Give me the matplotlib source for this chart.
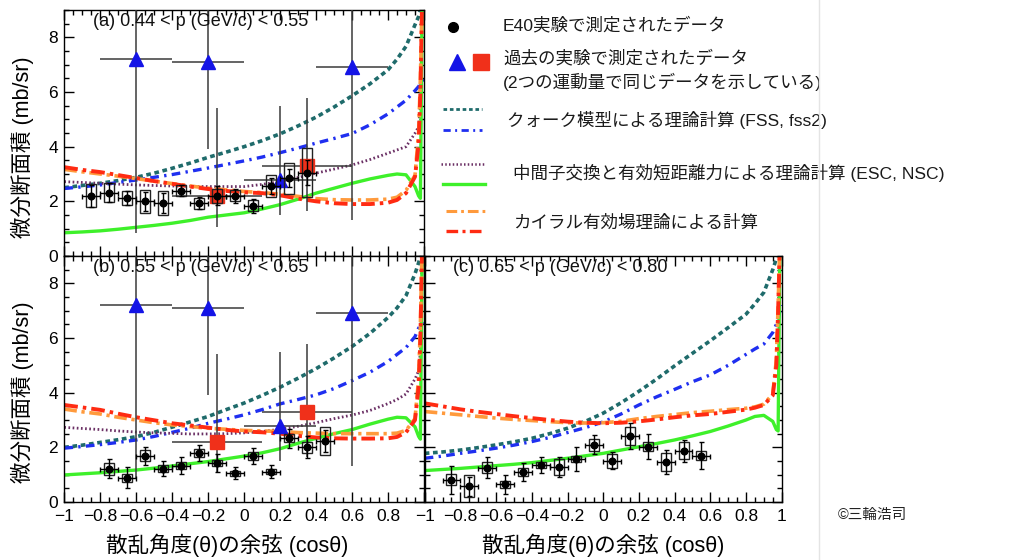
import numpy as np
import matplotlib.pyplot as plt
from matplotlib.patches import Rectangle
from matplotlib.lines import Line2D
from matplotlib.ticker import MultipleLocator, FuncFormatter

plt.rcParams['font.family'] = ['Liberation Sans', 'Noto Sans CJK JP']

# ---- theory curves: common cos(theta) grid ----
cos_grid = [-1.0, -0.9, -0.8, -0.7, -0.6, -0.5, -0.4, -0.3, -0.2, -0.1, 0.0,
            0.1, 0.2, 0.3, 0.4, 0.5, 0.6, 0.7, 0.8, 0.85, 0.9, 0.95, 0.97,
            0.98, 0.99, 1.0]

# (a) 0.44 < p < 0.55
fss_a = [2.50, 2.58, 2.66, 2.76, 2.88, 3.03, 3.21, 3.40, 3.61, 3.80, 4.00, 4.22, 4.47,
         4.76, 5.08, 5.45, 5.86, 6.30, 6.81, 7.20, 7.67, 8.46, 8.76, 9.0, 9.6, 10.5]
fss2_a = [2.47, 2.53, 2.60, 2.69, 2.78, 2.88, 2.98, 3.10, 3.22, 3.35, 3.48, 3.62, 3.78,
          3.95, 4.13, 4.30, 4.48, 4.80, 5.20, 5.45, 5.70, 6.05, 6.20, 6.30, 6.40, 6.50]
esc_a = [2.72, 2.69, 2.66, 2.63, 2.60, 2.58, 2.56, 2.55, 2.54, 2.54, 2.54, 2.62, 2.72,
         2.87, 3.03, 3.18, 3.33, 3.53, 3.76, 3.88, 4.00, 4.49, 4.73, 5.5, 9.5, 12]
nsc_a = [0.85, 0.88, 0.92, 0.98, 1.05, 1.12, 1.20, 1.30, 1.42, 1.50, 1.58, 1.72, 1.88,
         2.08, 2.30, 2.48, 2.66, 2.82, 2.95, 3.00, 2.97, 2.54, 2.20, 2.11, 9.5, 12]
chi1_a = [3.17, 3.08, 3.00, 2.92, 2.83, 2.74, 2.65, 2.56, 2.48, 2.42, 2.36, 2.32, 2.26,
          2.18, 2.10, 2.06, 2.05, 2.05, 2.08, 2.15, 2.40, 2.95, 4.50, 6.50, 9.5, 12]
chi2_a = [3.25, 3.15, 3.07, 2.96, 2.85, 2.74, 2.64, 2.54, 2.45, 2.38, 2.33, 2.30, 2.22,
          2.10, 2.00, 1.93, 1.90, 1.90, 1.95, 2.05, 2.30, 2.90, 4.10, 6.00, 9.5, 12]

# (b) 0.55 < p < 0.65
fss_b = [2.00, 2.08, 2.18, 2.28, 2.39, 2.55, 2.74, 2.93, 3.13, 3.38, 3.62, 3.90, 4.20,
         4.53, 4.88, 5.27, 5.69, 6.17, 6.75, 7.10, 7.55, 8.35, 8.75, 9.0, 9.6, 10.5]
fss2_b = [1.97, 2.03, 2.10, 2.18, 2.27, 2.40, 2.55, 2.70, 2.88, 3.03, 3.19, 3.38, 3.59,
          3.75, 3.92, 4.15, 4.44, 4.75, 5.14, 5.40, 5.65, 6.05, 6.36, 6.45, 6.50, 6.55]
esc_b = [2.73, 2.69, 2.65, 2.60, 2.56, 2.53, 2.51, 2.49, 2.49, 2.50, 2.53, 2.58, 2.66,
         2.77, 2.90, 3.05, 3.18, 3.35, 3.60, 3.75, 3.95, 4.50, 4.80, 5.5, 9.5, 12]
nsc_b = [0.99, 1.03, 1.07, 1.12, 1.17, 1.24, 1.32, 1.40, 1.48, 1.58, 1.68, 1.80, 1.95,
         2.15, 2.33, 2.50, 2.65, 2.85, 3.03, 3.10, 3.08, 2.75, 2.40, 2.30, 9.5, 12]
chi1_b = [3.40, 3.30, 3.22, 3.10, 3.00, 2.90, 2.82, 2.76, 2.70, 2.66, 2.62, 2.60, 2.58,
          2.54, 2.52, 2.50, 2.50, 2.50, 2.50, 2.52, 2.62, 3.05, 4.50, 6.50, 9.5, 12]
chi2_b = [3.55, 3.46, 3.37, 3.23, 3.10, 2.99, 2.88, 2.80, 2.72, 2.64, 2.58, 2.55, 2.50,
          2.42, 2.36, 2.33, 2.32, 2.32, 2.33, 2.38, 2.55, 3.00, 4.20, 6.00, 9.5, 12]

# (c) 0.65 < p < 0.80  (no ESC curve here)
fss_c = [1.78, 1.83, 1.90, 1.99, 2.09, 2.20, 2.33, 2.50, 2.70, 2.95, 3.25, 3.63, 4.05,
         4.50, 4.98, 5.44, 5.90, 6.38, 6.87, 7.25, 7.67, 8.50, 8.90, 9.1, 9.6, 10.5]
fss2_c = [1.60, 1.68, 1.78, 1.87, 1.97, 2.08, 2.21, 2.36, 2.54, 2.72, 2.93, 3.22, 3.55,
          3.85, 4.12, 4.40, 4.65, 5.00, 5.40, 5.60, 5.78, 6.20, 6.50, 6.70, 7.00, 7.20]
nsc_c = [1.15, 1.19, 1.23, 1.28, 1.33, 1.38, 1.44, 1.52, 1.60, 1.69, 1.78, 1.90, 2.02,
         2.14, 2.27, 2.42, 2.58, 2.78, 3.00, 3.13, 3.17, 2.95, 2.65, 2.60, 9.5, 12]
chi1_c = [3.31, 3.25, 3.19, 3.13, 3.07, 3.02, 2.98, 2.94, 2.90, 2.89, 2.90, 2.95, 3.05,
          3.13, 3.20, 3.27, 3.32, 3.38, 3.43, 3.48, 3.58, 3.95, 5.20, 7.20, 9.5, 12]
chi2_c = [3.61, 3.50, 3.39, 3.30, 3.22, 3.14, 3.07, 3.00, 2.94, 2.90, 2.88, 2.90, 2.95,
          3.02, 3.10, 3.17, 3.22, 3.30, 3.38, 3.45, 3.55, 3.90, 5.00, 7.00, 9.5, 12]

# ---- E40 data: value, stat error, systematic error ----
e40_x_a = [-0.85, -0.75, -0.65, -0.55, -0.45, -0.35, -0.25, -0.15, -0.05, 0.05, 0.15, 0.25, 0.35]
e40_y_a = [2.20, 2.32, 2.12, 2.00, 1.94, 2.39, 1.93, 2.20, 2.20, 1.84, 2.56, 2.84, 3.05]
e40_stat_a = [0.40, 0.35, 0.25, 0.35, 0.35, 0.20, 0.22, 0.35, 0.25, 0.25, 0.30, 0.33, 0.45]
e40_sys_a = [0.42, 0.35, 0.25, 0.42, 0.45, 0.20, 0.20, 0.26, 0.20, 0.20, 0.40, 0.57, 0.90]

e40_x_b = [-0.75, -0.65, -0.55, -0.45, -0.35, -0.25, -0.15, -0.05, 0.05, 0.15, 0.25, 0.35, 0.45]
e40_y_b = [1.21, 0.89, 1.70, 1.22, 1.33, 1.79, 1.42, 1.05, 1.68, 1.11, 2.33, 2.00, 2.23]
e40_stat_b = [0.35, 0.38, 0.33, 0.28, 0.30, 0.30, 0.32, 0.22, 0.30, 0.25, 0.35, 0.40, 0.40]
e40_sys_b = [0.21, 0.15, 0.21, 0.12, 0.12, 0.15, 0.12, 0.10, 0.15, 0.10, 0.15, 0.21, 0.52]

e40_x_c = [-0.85, -0.75, -0.65, -0.55, -0.45, -0.35, -0.25, -0.15, -0.05, 0.05, 0.15, 0.25, 0.35, 0.45, 0.55]
e40_y_c = [0.81, 0.57, 1.26, 0.65, 1.09, 1.36, 1.28, 1.58, 2.09, 1.51, 2.41, 2.03, 1.47, 1.88, 1.70]
e40_stat_c = [0.50, 0.35, 0.40, 0.35, 0.32, 0.30, 0.35, 0.45, 0.35, 0.32, 0.48, 0.45, 0.45, 0.40, 0.48]
e40_sys_c = [0.20, 0.40, 0.20, 0.12, 0.15, 0.12, 0.28, 0.10, 0.23, 0.26, 0.32, 0.15, 0.33, 0.30, 0.18]

# ---- old experiments (same data shown in (a) and (b)) ----
tri_x = [-0.6, -0.2, 0.2, 0.6]
tri_y = [7.20, 7.10, 2.78, 6.90]
tri_lo = [6.36, 3.18, 1.28, 5.58]
tri_hi = [6.36, 3.18, 2.72, 5.58]
tri_xerr = [0.2, 0.2, 0.2, 0.2]

sq_x = [-0.15, 0.35]
sq_y = [2.20, 3.29]
sq_lo = [1.13, 1.63]
sq_hi = [3.20, 2.50]
sq_xerr = [0.25, 0.25]

panel_titles = ['(a) 0.44 < p (GeV/c) < 0.55',
                '(b) 0.55 < p (GeV/c) < 0.65',
                '(c) 0.65 < p (GeV/c) < 0.80']

# colours / styles
C_FSS, C_FSS2, C_ESC = '#1f6b6b', '#1f2ff0', '#6a2f64'
C_NSC, C_CHI1, C_CHI2 = '#3ef02a', '#ff9a3c', '#ff2b12'
styles = {
    'fss': dict(color=C_FSS, lw=2.6, ls=(0, (1.3, 1.0))),
    'fss2': dict(color=C_FSS2, lw=2.4, ls=(0, (2.6, 1.6, 0.7, 1.6))),
    'esc': dict(color=C_ESC, lw=2.0, ls=(0, (0.6, 0.9))),
    'nsc': dict(color=C_NSC, lw=2.4, ls='-'),
    'chi1': dict(color=C_CHI1, lw=2.6, ls=(0, (3.5, 1.3, 0.9, 1.3))),
    'chi2': dict(color=C_CHI2, lw=2.8, ls=(0, (3.5, 1.3, 0.9, 1.3))),
}

W, H = 1013, 560
fig = plt.figure(figsize=(W / 100, H / 100), dpi=100)
fig.patch.set_facecolor('white')


def px_box(l, t, r, b):
    return [l / W, 1 - b / H, (r - l) / W, (b - t) / H]


ax_a = fig.add_axes(px_box(64.3, 10, 424, 256))
ax_b = fig.add_axes(px_box(64.3, 256, 424, 502))
ax_c = fig.add_axes(px_box(424.7, 256, 781.7, 502))


def tick_fmt(v, pos):
    s = '%g' % round(v, 2)
    return s.replace('-', '\u2212')


def tick_fmt_nolast(v, pos):
    if v > 0.99:
        return ''
    return tick_fmt(v, pos)


def draw_panel(ax, curves, ex, ey, estat, esys, old=True):
    for key, vals in curves:
        ax.plot(cos_grid, vals, zorder=2, solid_capstyle='butt',
                dash_capstyle='butt', **styles[key])
    if old:
        ax.errorbar(tri_x, tri_y, xerr=tri_xerr, yerr=[tri_lo, tri_hi], fmt='^',
                    ms=10.5, mfc='#1414e6', mec='#1414e6', ecolor='#3a3a3a',
                    elinewidth=1.1, capsize=0, zorder=3)
        ax.errorbar(sq_x, sq_y, xerr=sq_xerr, yerr=[sq_lo, sq_hi], fmt='s',
                    ms=9.5, mfc='#f0301a', mec='#f0301a', ecolor='#3a3a3a',
                    elinewidth=1.1, capsize=0, zorder=3)
    for x, y, s in zip(ex, ey, esys):
        ax.add_patch(Rectangle((x - 0.028, y - s), 0.056, 2 * s, fill=False,
                               ec='#222222', lw=1.0, zorder=4))
    ax.errorbar(ex, ey, xerr=0.05, yerr=estat, fmt='o', ms=4.8, color='black',
                ecolor='black', elinewidth=1.0, capsize=1.8, capthick=1.0, zorder=5)

    ax.set_xlim(-1, 1)
    ax.set_ylim(0, 9)
    ax.xaxis.set_major_locator(MultipleLocator(0.2))
    ax.xaxis.set_minor_locator(MultipleLocator(0.05))
    ax.yaxis.set_major_locator(MultipleLocator(2))
    ax.yaxis.set_minor_locator(MultipleLocator(0.5))
    ax.tick_params(which='both', direction='in', top=True, right=True,
                   labelsize=12.5, width=1.0, colors='black')
    ax.tick_params(which='major', length=7)
    ax.tick_params(which='minor', length=3.5)
    ax.tick_params(axis='x', pad=5)
    ax.tick_params(axis='y', pad=4.5)
    for sp in ax.spines.values():
        sp.set_linewidth(1.0)


draw_panel(ax_a, [('fss', fss_a), ('fss2', fss2_a), ('esc', esc_a), ('nsc', nsc_a),
                  ('chi1', chi1_a), ('chi2', chi2_a)],
           e40_x_a, e40_y_a, e40_stat_a, e40_sys_a)
draw_panel(ax_b, [('fss', fss_b), ('fss2', fss2_b), ('esc', esc_b), ('nsc', nsc_b),
                  ('chi1', chi1_b), ('chi2', chi2_b)],
           e40_x_b, e40_y_b, e40_stat_b, e40_sys_b)
draw_panel(ax_c, [('fss', fss_c), ('fss2', fss2_c), ('nsc', nsc_c),
                  ('chi1', chi1_c), ('chi2', chi2_c)],
           e40_x_c, e40_y_c, e40_stat_c, e40_sys_c, old=False)

ax_a.tick_params(axis='x', labelbottom=False)
ax_b.xaxis.set_major_formatter(FuncFormatter(tick_fmt_nolast))
ax_c.xaxis.set_major_formatter(FuncFormatter(tick_fmt))
ax_a.yaxis.set_major_formatter(FuncFormatter(tick_fmt))
ax_b.yaxis.set_major_formatter(FuncFormatter(tick_fmt))
ax_c.tick_params(axis='y', labelleft=False)

for ax, title in zip([ax_a, ax_b, ax_c], panel_titles):
    ax.text(0.08, 0.955, title, transform=ax.transAxes, fontsize=13,
            ha='left', va='center', color='#111111')

# axis titles
ylab = '微分断面積 (mb/sr)'
xlab = '散乱角度(θ)の余弦 (cosθ)'
fig.text(22 / W, 1 - 147 / H, ylab, rotation=90, ha='center', va='center', fontsize=15.5)
fig.text(22 / W, 1 - 392 / H, ylab, rotation=90, ha='center', va='center', fontsize=15.5)
fig.text(227 / W, 1 - 545 / H, xlab, ha='center', va='center', fontsize=15.5)
fig.text(603 / W, 1 - 545 / H, xlab, ha='center', va='center', fontsize=15.5)

# faint border of the pasted image on the right
fig.add_artist(Line2D([819 / W, 819 / W], [0, 1], color='#e4e4e4', lw=1.0))

# ---- legend (drawn in pixel space) ----
leg = fig.add_axes(px_box(426, 0, W, 255))
leg.set_xlim(426, W)
leg.set_ylim(255, 0)
leg.axis('off')
leg.patch.set_visible(False)

leg.plot([453], [27], 'o', color='black', ms=7)
leg.plot([457], [62], '^', color='#1414e6', ms=12)
leg.plot([481], [62], 's', color='#f0301a', ms=11)
leg_w = {'fss': 2.0, 'fss2': 2.0, 'esc': 1.8, 'nsc': 2.4, 'chi1': 2.2, 'chi2': 2.4}
for key, xs, yv in [('fss', (443, 482), 109), ('fss2', (443, 482), 130),
                    ('esc', (441, 485), 164), ('nsc', (443, 485), 184),
                    ('chi1', (446, 485), 211), ('chi2', (446, 485), 231)]:
    st = dict(styles[key])
    st['lw'] = leg_w[key]
    leg.add_line(Line2D(list(xs), [yv, yv], **st))

leg_fs = 12.6
leg_col = '#1a1a1a'
leg.text(503, 25, 'E40実験で測定されたデータ', fontsize=leg_fs, va='center', color=leg_col)
leg.text(503, 58, '過去の実験で測定されたデータ', fontsize=leg_fs, va='center', color=leg_col)
leg.text(503, 82, '(2つの運動量で同じデータを示している)', fontsize=leg_fs, va='center', color=leg_col)
leg.text(507, 120, 'クォーク模型による理論計算 (FSS, fss2)', fontsize=leg_fs, va='center', color=leg_col)
leg.text(513, 173, '中間子交換と有効短距離力による理論計算 (ESC, NSC)', fontsize=leg_fs,
         va='center', color=leg_col)
leg.text(513, 223, 'カイラル有効場理論による計算', fontsize=leg_fs, va='center', color=leg_col)

fig.text(838 / W, 1 - 515 / H, '©三輪浩司', fontsize=10.5, ha='left', va='center', color='#222222')

fig.savefig('out.png', dpi=100, facecolor='white')
